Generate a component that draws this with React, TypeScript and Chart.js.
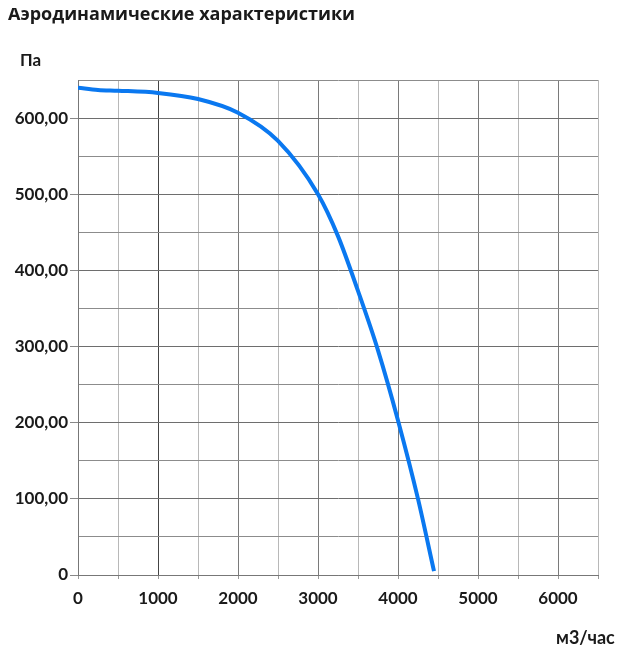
import React, { useEffect, useRef } from "react";
import { Chart, registerables } from "chart.js";

Chart.register(...registerables);

const flowValues = [0, 250, 500, 1000, 1500, 2000, 2500, 3000, 3250, 3500, 3750, 4000, 4250, 4450];
const pressureValues = [640, 637, 636, 633, 625, 607, 570, 500, 445, 373, 295, 203, 100, 5];
const titleText = "Аэродинамические характеристики";
const yUnit = "Па";
const xUnit = "м3/час";

const FONT = "Lato, 'Open Sans', sans-serif";

export default function App() {
  const ref = useRef<HTMLCanvasElement | null>(null);
  useEffect(() => {
    if (!ref.current) return;
    const chart = new Chart(ref.current, {
      type: "line",
      data: {
        datasets: [
          {
            data: flowValues.map((x, i) => ({ x, y: pressureValues[i] })),
            borderColor: "#0a78f0",
            borderWidth: 4,
            pointRadius: 0,
            tension: 0.4,
            cubicInterpolationMode: "monotone",
            fill: false,
          },
        ],
      },
      options: {
        animation: false,
        responsive: false,
        maintainAspectRatio: false,
        layout: { padding: { left: 0, right: 34, top: 72, bottom: 0 } },
        plugins: { legend: { display: false }, tooltip: { enabled: false }, title: { display: false } },
        scales: {
          x: {
            type: "linear",
            min: 0,
            max: 6500,
            afterFit: (s: any) => { s.height = 79; },
            ticks: {
              stepSize: 500,
              autoSkip: false,
              maxRotation: 0,
              padding: 9,
              color: "#1a1a1a",
              font: { family: FONT, size: 17, weight: "bold" },
              callback: (v: any) => (Number(v) % 1000 === 0 ? String(v) : ""),
            },
            grid: {
              color: (ctx: any) => {
                const v = ctx.tick ? ctx.tick.value : 0;
                if (v === 1000) return "#444";
                return v % 1000 === 0 ? "#7a7a7a" : "#b8b8b8";
              },
              lineWidth: 1,
              tickLength: 4,
              tickColor: "#999",
            },
            border: { display: true, color: "#777" },
          },
          y: {
            type: "linear",
            min: 0,
            max: 650,
            afterFit: (s: any) => { s.width = 70; },
            ticks: {
              stepSize: 50,
              autoSkip: false,
              padding: 2,
              color: "#1a1a1a",
              font: { family: FONT, size: 17, weight: "bold" },
              callback: (v: any) => {
                const n = Number(v);
                if (n % 100 !== 0) return "";
                return n === 0 ? "0" : n.toFixed(2).replace(".", ",");
              },
            },
            grid: {
              color: (ctx: any) => (ctx.tick && ctx.tick.value % 100 === 0 ? "#6e6e6e" : "#8c8c8c"),
              lineWidth: 1,
              tickLength: 8,
              tickColor: (ctx: any) => (ctx.tick && ctx.tick.value % 100 === 0 ? "#888" : "rgba(0,0,0,0)"),
            },
            border: { display: true, color: "#777" },
          },
        },
      },
    });
    return () => chart.destroy();
  }, []);

  return (
    <div style={{ position: "relative", width: 624, height: 646, fontFamily: FONT }}>
      <canvas ref={ref} width={624} height={646} style={{ display: "block" }} />
      <div style={{ position: "absolute", left: 0, top: -7, fontSize: 18, fontWeight: "bold", color: "#1a1a1a", whiteSpace: "nowrap", fontFamily: "'Open Sans', sans-serif" }}>
        {titleText}
      </div>
      <div style={{ position: "absolute", left: 12, top: 41, fontSize: 17, fontWeight: "bold", color: "#1a1a1a" }}>
        {yUnit}
      </div>
      <div style={{ position: "absolute", left: 548, top: 618, fontSize: 18, fontWeight: "bold", color: "#1a1a1a" }}>
        {xUnit}
      </div>
    </div>
  );
}
